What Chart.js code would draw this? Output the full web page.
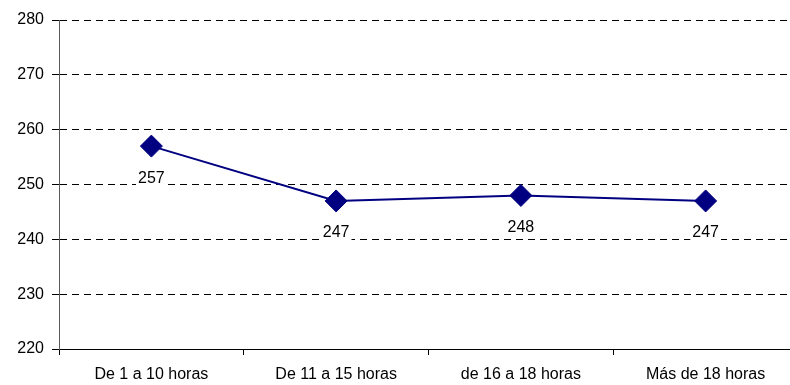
<!DOCTYPE html>
<html>
<head>
<meta charset="utf-8">
<script src="https://cdn.jsdelivr.net/npm/chart.js@4/dist/chart.umd.min.js"></script>
<style>
  html, body { margin: 0; padding: 0; background: #fff; overflow: hidden; }
  #wrap { position: relative; width: 810px; height: 385px; }
</style>
</head>
<body>
<div id="wrap"><canvas id="myChart" width="810" height="385"></canvas></div>
<script>
var categories = ['De 1 a 10 horas', 'De 11 a 15 horas', 'de 16 a 18 horas', 'Más de 18 horas'];
var puntajes = [257, 247, 248, 247];
var yTicks = [220, 230, 240, 250, 260, 270, 280];

// values printed under each diamond, on a white box
const valueLabels = {
  id: 'valueLabels',
  afterDatasetsDraw(chart) {
    const ctx = chart.ctx;
    const meta = chart.getDatasetMeta(0);
    ctx.save();
    ctx.font = '16px "Liberation Sans", Arial, sans-serif';
    ctx.textAlign = 'center';
    ctx.textBaseline = 'middle';
    meta.data.forEach((pt, i) => {
      const txt = String(chart.data.datasets[0].data[i]);
      const w = ctx.measureText(txt).width;
      const y = pt.y + 32;
      ctx.fillStyle = '#fff';
      ctx.fillRect(pt.x - w / 2 - 2, y - 9, w + 4, 18);
      ctx.fillStyle = '#000';
      ctx.fillText(txt, pt.x, y);
    });
    ctx.restore();
  }
};

const ctx = document.getElementById('myChart');
const chart1 = new Chart(ctx, {
  type: 'line',
  data: {
    labels: categories,
    datasets: [{
      data: puntajes,
      borderColor: '#000080',
      backgroundColor: '#000080',
      borderWidth: 2,
      fill: false,
      tension: 0,
      pointStyle: 'rectRot',
      pointRadius: 11,
      pointBorderWidth: 1,
      pointBackgroundColor: '#000080',
      pointBorderColor: '#000080'
    }]
  },
  options: {
    responsive: false,
    animation: false,
    layout: { padding: { top: 20, right: 11, left: 0, bottom: 0 } },
    plugins: {
      legend: { display: false },
      tooltip: { enabled: false }
    },
    scales: {
      x: {
        offset: true,
        grid: {
          offset: true,
          drawOnChartArea: false,
          drawTicks: true,
          tickLength: 6,
          color: '#000'
        },
        border: { display: true, color: '#000', width: 1 },
        ticks: {
          color: '#000',
          padding: 10,
          maxRotation: 0,
          font: { family: '"Liberation Sans", Arial, sans-serif', size: 16 }
        },
        afterFit(scale) { scale.height = 36; }
      },
      y: {
        min: 220,
        max: 280,
        afterBuildTicks(scale) { scale.ticks = yTicks.map(v => ({ value: v })); },
        grid: {
          color: '#000',
          lineWidth: 1,
          drawTicks: true,
          tickLength: 7,
          tickBorderDash: [],
          tickColor: '#000'
        },
        border: { display: true, color: '#5a5a5a', width: 1, dash: [7, 5] },
        ticks: {
          color: '#000',
          padding: 8,
          font: { family: '"Liberation Sans", Arial, sans-serif', size: 16 }
        },
        afterFit(scale) { scale.width = 59; }
      }
    }
  },
  plugins: [valueLabels]
});
</script>
</body>
</html>
